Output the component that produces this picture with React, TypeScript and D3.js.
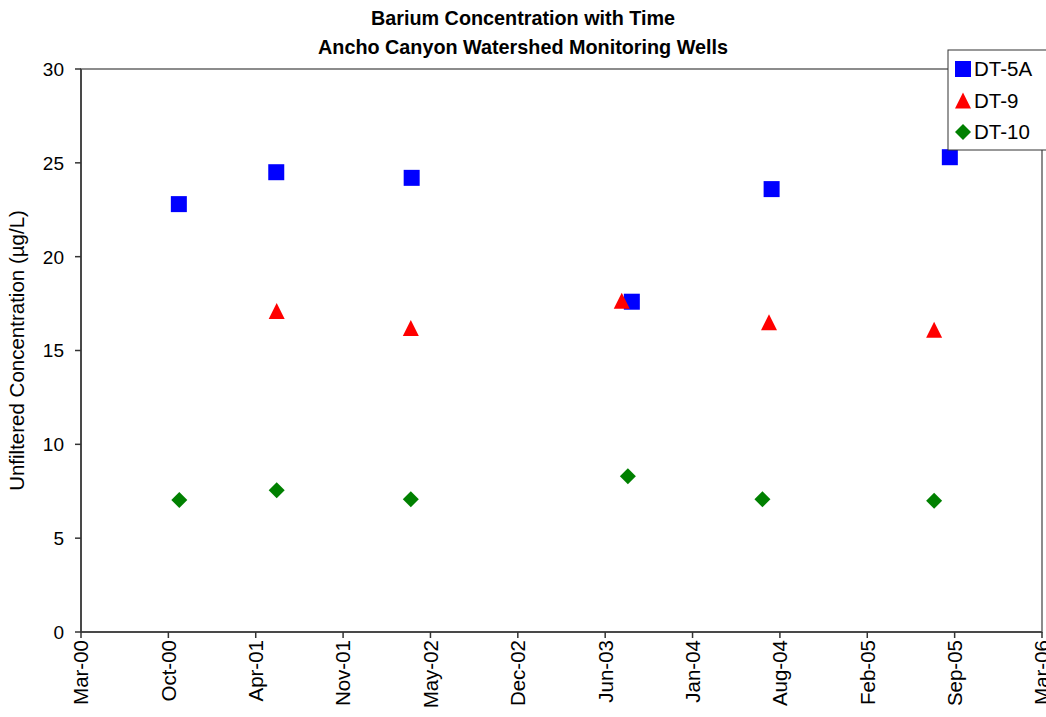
import React from 'react';
import * as d3 from 'd3';

const titleLines = ['Barium Concentration with Time', 'Ancho Canyon Watershed Monitoring Wells'];
const yAxisTitle = 'Unfiltered Concentration (µg/L)';

const seriesNames = ['DT-5A', 'DT-9', 'DT-10'];
const seriesColors = ['#0000FF', '#FF0000', '#008000'];
const seriesShapes = ['square', 'triangle', 'diamond'];

const dt5aDates = ['2000-10-25', '2001-06-05', '2002-04-11', '2003-08-28', '2004-07-13', '2005-08-25'];
const dt5aValues = [22.8, 24.5, 24.2, 17.6, 23.6, 25.3];
const dt9Dates = ['2001-06-06', '2002-04-09', '2003-08-05', '2004-07-07', '2005-07-20'];
const dt9Values = [17.1, 16.2, 17.65, 16.5, 16.1];
const dt10Dates = ['2000-10-26', '2001-06-06', '2002-04-09', '2003-08-19', '2004-06-22', '2005-07-20'];
const dt10Values = [7.03, 7.55, 7.07, 8.3, 7.08, 7.0];

const yTicks = [0, 5, 10, 15, 20, 25, 30];
const xStart = '2000-03-15';
const xEnd = '2006-03-24';
const xStepDays = 200;

const W = 1046;
const H = 717;
const M = { left: 81, right: 1042, top: 69, bottom: 632 };
const FONT = 'Liberation Sans, Arial, sans-serif';

const parse = d3.utcParse('%Y-%m-%d');
const fmt = d3.utcFormat('%b-%y');

function marker(shape: string, x: number, y: number, color: string, key: string) {
  const s = 8;
  if (shape === 'square') {
    return <rect key={key} x={x - s} y={y - s} width={2 * s} height={2 * s} fill={color} />;
  }
  if (shape === 'triangle') {
    return <path key={key} d={`M${x},${y - s}L${x + s},${y + s}L${x - s},${y + s}Z`} fill={color} />;
  }
  return <path key={key} d={`M${x},${y - s}L${x + s},${y}L${x},${y + s}L${x - s},${y}Z`} fill={color} />;
}

export default function App() {
  const start = parse(xStart)!;
  const end = parse(xEnd)!;
  const x = d3.scaleUtc().domain([start, end]).range([M.left, M.right]);
  const y = d3.scaleLinear().domain([0, 30]).range([M.bottom, M.top]);

  const nTicks = Math.round(d3.utcDay.count(start, end) / xStepDays);
  const xTicks = d3.range(nTicks + 1).map((k) => d3.utcDay.offset(start, k * xStepDays));

  const series = [
    { dates: dt5aDates, values: dt5aValues },
    { dates: dt9Dates, values: dt9Values },
    { dates: dt10Dates, values: dt10Values },
  ];

  const legendX = 948;
  const legendY = 50;

  return (
    <svg width={W} height={H} style={{ position: 'absolute', left: 0, top: 0, background: '#fff' }} fontFamily={FONT}>
      <rect x={0} y={0} width={W} height={H} fill="#fff" />
      {/* title */}
      <text x={523} y={25} textAnchor="middle" fontWeight="bold" fontSize={19.8} fill="#000">{titleLines[0]}</text>
      <text x={523} y={54} textAnchor="middle" fontWeight="bold" fontSize={19.8} fill="#000">{titleLines[1]}</text>

      {/* plot border */}
      <rect x={M.left} y={M.top} width={M.right - M.left} height={M.bottom - M.top} fill="none" stroke="#8c8c8c" strokeWidth={2} />
      {/* axes */}
      <line x1={M.left} x2={M.left} y1={M.top} y2={M.bottom} stroke="#333" strokeWidth={1.5} />
      <line x1={M.left} x2={M.right} y1={M.bottom} y2={M.bottom} stroke="#333" strokeWidth={1.5} />

      {yTicks.map((t) => (
        <g key={'y' + t}>
          <line x1={M.left - 6} x2={M.left} y1={y(t)} y2={y(t)} stroke="#333" strokeWidth={1.5} />
          <text x={M.left - 17} y={y(t)} dy="0.36em" textAnchor="end" fontSize={19} fill="#000">{t}</text>
        </g>
      ))}
      {xTicks.map((t, i) => (
        <g key={'x' + i}>
          <line x1={x(t)} x2={x(t)} y1={M.bottom} y2={M.bottom + 6} stroke="#333" strokeWidth={1.5} />
          <text transform={`translate(${x(t)},${M.bottom + 8}) rotate(-90)`} dy="0.36em" textAnchor="end" fontSize={20.5} fill="#000">{fmt(t)}</text>
        </g>
      ))}

      <text transform={`translate(24,${(M.top + M.bottom) / 2}) rotate(-90)`} textAnchor="middle" fontSize={20.5} fill="#000">{yAxisTitle}</text>

      {/* data */}
      {series.map((s, si) =>
        s.dates.map((d, i) => marker(seriesShapes[si], x(parse(d)!), y(s.values[i]), seriesColors[si], `m${si}-${i}`))
      )}

      {/* legend */}
      <rect x={legendX} y={legendY} width={110} height={100} fill="#fff" stroke="#333" strokeWidth={1} />
      {seriesNames.map((n, i) => (
        <g key={'l' + i}>
          {marker(seriesShapes[i], legendX + 15, legendY + 19 + i * 31.5, seriesColors[i], 'lm' + i)}
          <text x={legendX + 26} y={legendY + 19 + i * 31.5} dy="0.36em" fontSize={20.5} fill="#000">{n}</text>
        </g>
      ))}
    </svg>
  );
}
